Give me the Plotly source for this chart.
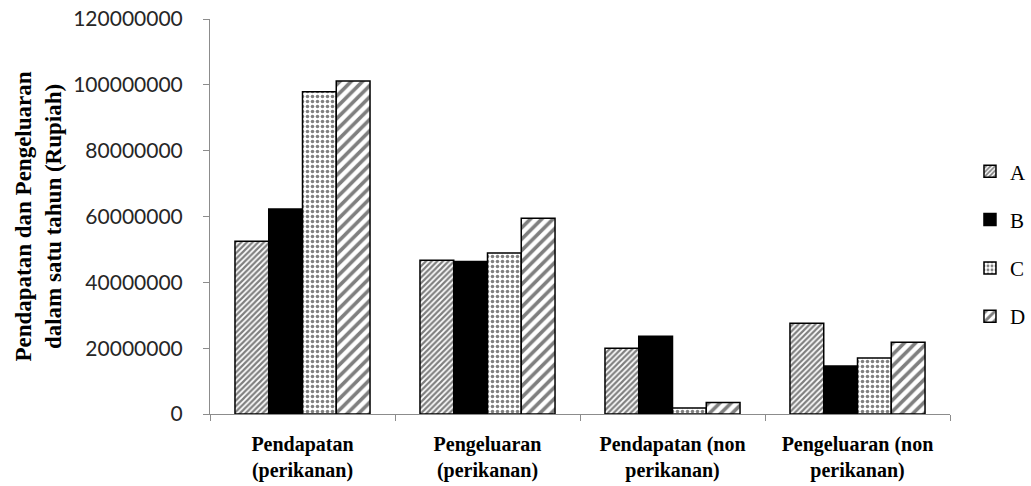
import plotly.graph_objects as go

categories = [
    "Pendapatan<br>(perikanan)",
    "Pengeluaran<br>(perikanan)",
    "Pendapatan (non<br>perikanan)",
    "Pengeluaran (non<br>perikanan)",
]
series_names = ["A", "B", "C", "D"]
values_a = [52500000, 46700000, 20000000, 27600000]
values_b = [62300000, 46300000, 23600000, 14600000]
values_c = [97900000, 48900000, 1800000, 17000000]
values_d = [101200000, 59500000, 3500000, 21800000]
y_tick_values = [0, 20000000, 40000000, 60000000, 80000000, 100000000, 120000000]
y_tick_labels = ["0", "20000000", "40000000", "60000000", "80000000", "100000000", "120000000"]

series_values = [values_a, values_b, values_c, values_d]

# fill style per series: fine hatch, solid, dots, wide hatch
patterns = [
    dict(shape="/", fgcolor="black", bgcolor="white", size=4, solidity=0.55),
    dict(shape="", fgcolor="black", bgcolor="black"),
    dict(shape=".", fgcolor="black", bgcolor="white", size=5, solidity=0.4),
    dict(shape="/", fgcolor="black", bgcolor="white", size=8, solidity=0.45),
]
fills = ["white", "black", "white", "white"]

fig = go.Figure()
for i, (name, vals) in enumerate(zip(series_names, series_values)):
    fig.add_trace(go.Bar(
        x=categories,
        y=vals,
        name=name,
        legendgroup=name,
        marker=dict(
            color=fills[i],
            pattern=patterns[i],
            line=dict(color="black", width=1.5),
        ),
    ))

fig.update_layout(
    width=1031,
    height=486,
    margin=dict(l=210, r=81, t=19, b=72, autoexpand=False),
    paper_bgcolor="white",
    plot_bgcolor="white",
    barmode="group",
    bargap=0.27,
    bargroupgap=0,
    showlegend=True,
    legend=dict(
        x=1.027, xanchor="left",
        y=0.43, yanchor="middle",
        font=dict(family="Liberation Serif", size=21, color="black"),
        tracegroupgap=18,
        itemwidth=30,
    ),
    font=dict(family="Liberation Serif", color="black"),
)

fig.update_xaxes(
    showline=True,
    linecolor="#8c8c8c",
    linewidth=1,
    ticks="outside",
    tickson="boundaries",
    ticklen=6,
    tickcolor="#8c8c8c",
    showgrid=False,
    tickfont=dict(family="Liberation Serif", size=20, color="black", weight="bold"),
    ticklabelstandoff=12,
)

fig.update_yaxes(
    range=[0, 120000000],
    tickvals=y_tick_values,
    ticktext=y_tick_labels,
    showline=True,
    linecolor="#8c8c8c",
    linewidth=1,
    ticks="outside",
    ticklen=6,
    tickcolor="#8c8c8c",
    showgrid=False,
    zeroline=False,
    tickfont=dict(family="Lato", size=21, color="#262626"),
    ticklabelstandoff=16,
    title=dict(
        text="Pendapatan dan Pengeluaran<br>dalam satu tahun (Rupiah)",
        font=dict(family="Liberation Serif", size=23, color="black", weight="bold"),
        standoff=5,
    ),
)

fig.write_html("out.html")
